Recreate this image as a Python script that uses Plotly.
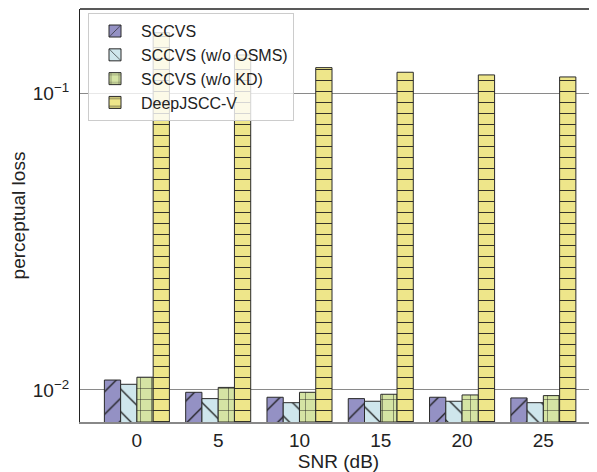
import plotly.graph_objects as go

snr = ["0", "5", "10", "15", "20", "25"]
sccvs = [0.0108, 0.00982, 0.00945, 0.00935, 0.00945, 0.00940]
sccvs_wo_osms = [0.01045, 0.00935, 0.00906, 0.00916, 0.00916, 0.00906]
sccvs_wo_kd = [0.01104, 0.0102, 0.00982, 0.00967, 0.00962, 0.00957]
deepjscc_v = [0.160, 0.1346, 0.122, 0.1177, 0.1153, 0.1135]

series = [
    ("SCCVS", sccvs, "#9491c4", "/", 16),
    ("SCCVS (w/o OSMS)", sccvs_wo_osms, "#cfe6ec", "\\", 16),
    ("SCCVS (w/o KD)", sccvs_wo_kd, "#d5e4a4", "+", 11),
    ("DeepJSCC-V", deepjscc_v, "#eee68a", "-", 11),
]

fig = go.Figure()
for name, vals, col, shp, sz in series:
    fig.add_trace(go.Bar(
        x=snr, y=vals, name=name,
        marker=dict(
            color=col,
            line=dict(color="#2a2a2a", width=1),
            pattern=dict(shape=shp, fgcolor="#1a1a1a", bgcolor=col,
                         size=sz, solidity=0.08, fillmode="replace"),
        ),
    ))

font = "Liberation Sans, Arial, sans-serif"
# page body has an 8px margin, so the figure is sized to fit 597x472 window
fig.update_layout(
    width=589, height=464,
    margin=dict(l=72, r=0, t=1, b=50),
    paper_bgcolor="white", plot_bgcolor="white",
    barmode="group", bargap=0.2, bargroupgap=0,
    font=dict(family=font, color="#222"),
    showlegend=True,
    legend=dict(x=0.0155, y=0.99, xanchor="left", yanchor="top",
                bgcolor="rgba(255,255,255,0.8)", bordercolor="#cccccc",
                borderwidth=1, font=dict(size=16, family=font),
                tracegroupgap=0, itemwidth=42),
    xaxis=dict(type="category", range=[-0.70, 5.66],
               showline=True, linecolor="#888888", linewidth=2,
               ticks="", tickfont=dict(size=19),
               title=dict(text="SNR (dB)", font=dict(size=19), standoff=2),
               showgrid=False),
    yaxis=dict(type="log", range=[-2.108, -0.716],
               tickvals=[0.01, 0.1],
               ticktext=["10<sup>−2</sup>", "10<sup>−1</sup>"],
               tickfont=dict(size=19),
               showgrid=True, gridcolor="#8a8a8a", gridwidth=1,
               showline=True, linecolor="#222222", linewidth=1.2,
               ticks="", zeroline=False, ticklabelstandoff=6,
               title=dict(text="perceptual loss", font=dict(size=19), standoff=8)),
    shapes=[dict(type="line", xref="paper", yref="paper", x0=0, x1=1, y0=1, y1=1,
                 line=dict(color="#222222", width=1.5))],
)

fig.write_html("out.html")
